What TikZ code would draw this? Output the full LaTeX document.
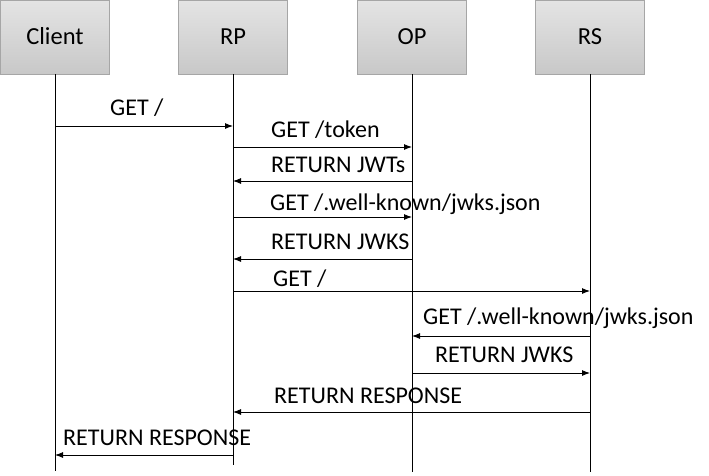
\documentclass[tikz,border=0pt]{standalone}
\usepackage{fontspec}
\setmainfont{Carlito}
\usetikzlibrary{positioning,arrows.meta}
\definecolor{boxtop}{RGB}{228,228,228}
\definecolor{boxbot}{RGB}{200,200,200}
\definecolor{boxline}{RGB}{166,166,166}
\begin{document}
\begin{tikzpicture}[x=1pt,y=-1pt,
  actor/.style={draw=boxline, top color=boxtop, bottom color=boxbot,
    minimum width=109pt, minimum height=74pt, inner sep=0pt,
    text height=18pt, text depth=3pt,
    font=\fontsize{24.5}{28}\selectfont},
  life/.style={line width=0.9pt},
  msg/.style={line width=0.9pt, -{Latex[length=8pt,width=6pt]}},
  lbl/.style={anchor=base west, inner sep=0pt, font=\fontsize{24}{28}\selectfont}]
\useasboundingbox (0,0) rectangle (709,475);
% the four parties
\node[actor] (client) at (55,37) {Client};
\node[actor] (rp) at (233,37) {RP};
\node[actor] (op) at (412,37) {OP};
\node[actor] (rs) at (590,37) {RS};
\coordinate (client-end) at (55,471);
\coordinate (rp-end) at (233,465);
\coordinate (op-end) at (412,472);
\coordinate (rs-end) at (590,472);
\draw[life] (client) -- (client-end);
\draw[life] (rp) -- (rp-end);
\draw[life] (op) -- (op-end);
\draw[life] (rs) -- (rs-end);
% messages
\node[lbl] (m1) at (110,115) {GET /};
\draw[msg] (client |- 0,126) -- (rp |- 0,126);
\node[lbl] (m2) at (271,137) {GET /token};
\draw[msg] (rp |- 0,147) -- (op |- 0,147);
\node[lbl] (m3) at (271,172) {RETURN JWTs};
\draw[msg] (op |- 0,181) -- (rp |- 0,181);
\node[lbl] (m4) at (270,210) {GET /.well-known/jwks.json};
\draw[msg] (rp |- 0,217) -- (op |- 0,217);
\node[lbl] (m5) at (271,249) {RETURN JWKS};
\draw[msg] (op |- 0,259) -- (rp |- 0,259);
\node[lbl] (m6) at (273,286) {GET /};
\draw[msg] (rp |- 0,291) -- (rs |- 0,291);
\node[lbl] (m7) at (423,324) {GET /.well-known/jwks.json};
\draw[msg] (rs |- 0,336) -- (op |- 0,336);
\node[lbl] (m8) at (435,362) {RETURN JWKS};
\draw[msg] (op |- 0,373) -- (rs |- 0,373);
\node[lbl] (m9) at (274,403) {RETURN RESPONSE};
\draw[msg] (rs |- 0,412) -- (rp |- 0,412);
\node[lbl] (m10) at (63,445) {RETURN RESPONSE};
\draw[msg] (rp |- 0,455) -- (client |- 0,455);
\end{tikzpicture}
\end{document}
